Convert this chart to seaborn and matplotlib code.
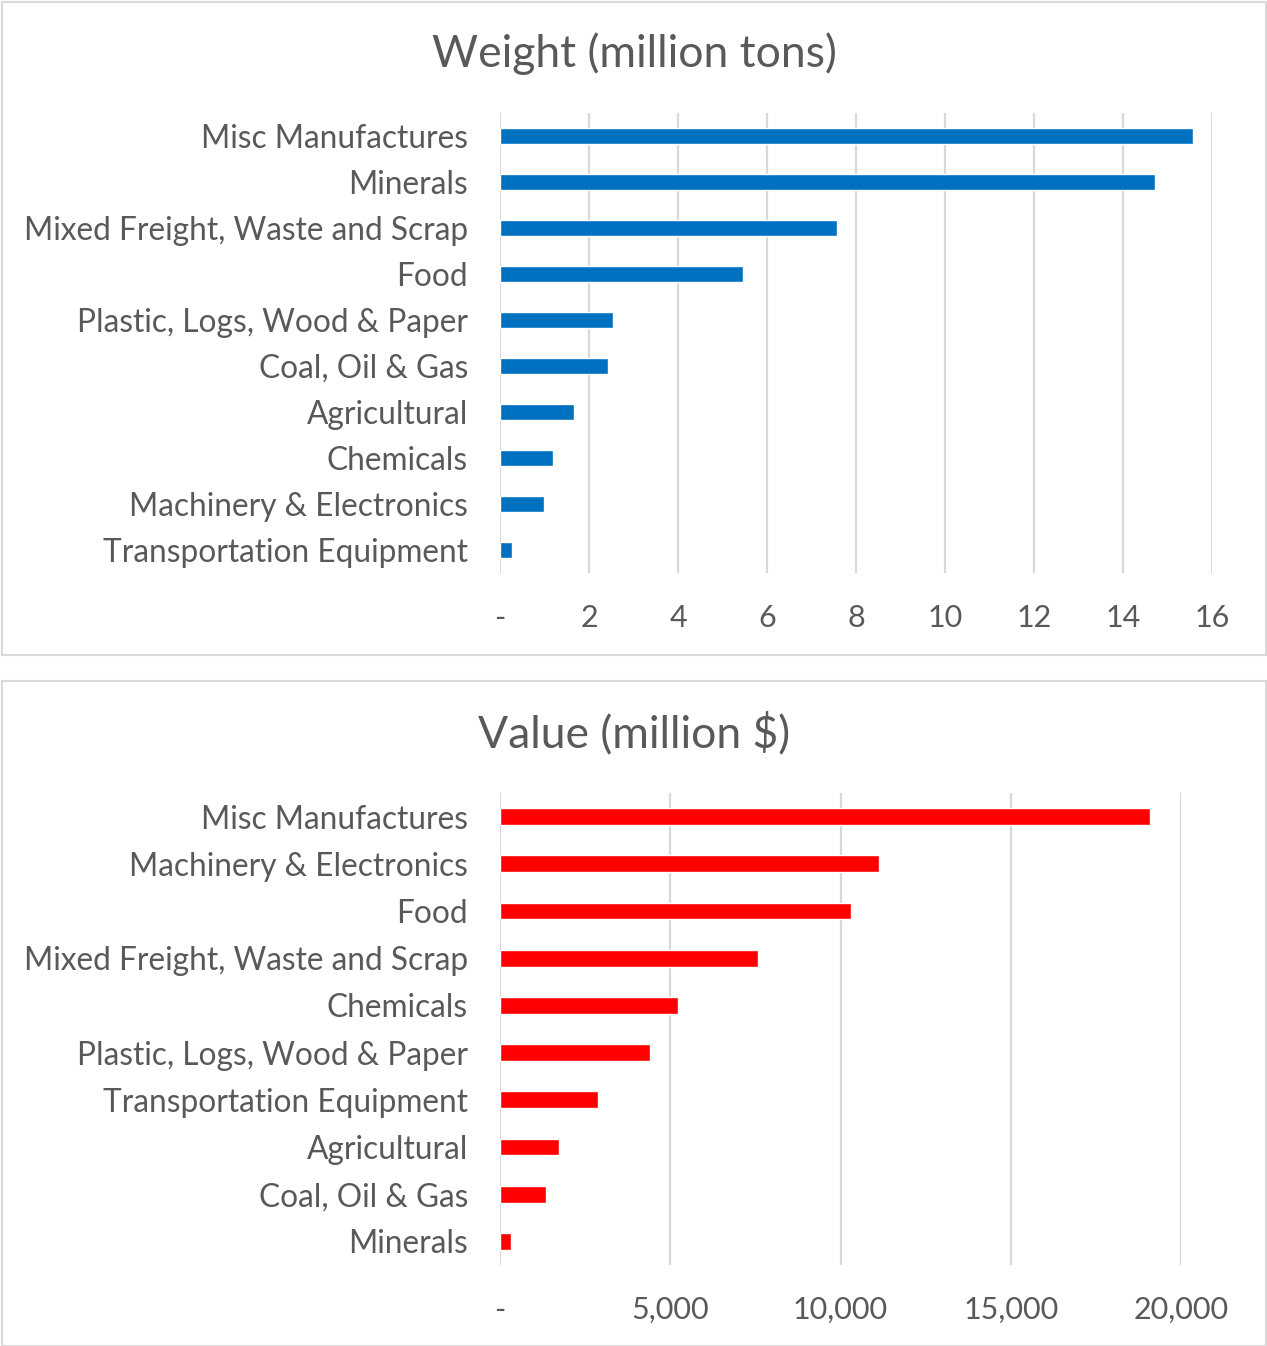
import matplotlib
matplotlib.use("Agg")
import matplotlib.pyplot as plt
from matplotlib.patches import Rectangle
from matplotlib.ticker import FuncFormatter
import seaborn as sns
import pandas as pd

# Freight by commodity: weight (million tons)
weight_categories = [
    "Misc Manufactures", "Minerals", "Mixed Freight, Waste and Scrap", "Food",
    "Plastic, Logs, Wood & Paper", "Coal, Oil & Gas", "Agricultural",
    "Chemicals", "Machinery & Electronics", "Transportation Equipment",
]
weight_values = [15.58, 14.73, 7.58, 5.45, 2.54, 2.42, 1.66, 1.18, 0.98, 0.28]
weight_ticks = [0, 2, 4, 6, 8, 10, 12, 14, 16]

# Freight by commodity: value (million $)
value_categories = [
    "Misc Manufactures", "Machinery & Electronics", "Food",
    "Mixed Freight, Waste and Scrap", "Chemicals", "Plastic, Logs, Wood & Paper",
    "Transportation Equipment", "Agricultural", "Coal, Oil & Gas", "Minerals",
]
value_values = [19080, 11144, 10314, 7587, 5220, 4399, 2865, 1730, 1340, 314]
value_ticks = [0, 5000, 10000, 15000, 20000]

sns.set_theme(style="white")
plt.rcParams["font.family"] = ["Lato", "DejaVu Sans"]

TEXT = "#595959"
GRID = "#D9D9D9"
W, H = 1267, 1346
fig = plt.figure(figsize=(W / 100, H / 100), dpi=100)


def px_axes(x0, y0, x1, y1):
    return fig.add_axes([x0 / W, 1 - y1 / H, (x1 - x0) / W, (y1 - y0) / H])


def panel_border(x0, y0, x1, y1):
    fig.patches.append(Rectangle((x0 / W, 1 - y1 / H), (x1 - x0) / W, (y1 - y0) / H,
                                 transform=fig.transFigure, fill=False,
                                 edgecolor=GRID, linewidth=1.5))


def dash_zero(fmt):
    return FuncFormatter(lambda v, _: "-" if v == 0 else fmt.format(v))


def draw(ax, cats, vals, color, ticks, fmt, title, title_y):
    df = pd.DataFrame({"category": cats, "amount": vals})
    sns.barplot(data=df, x="amount", y="category", orient="h", color=color,
                width=0.36, saturation=1, ax=ax)
    ax.set_xlim(ticks[0], ticks[-1])
    ax.set_xticks(ticks)
    ax.xaxis.set_major_formatter(dash_zero(fmt))
    ax.grid(axis="x", color=GRID, linewidth=1.6)
    ax.grid(axis="y", visible=False)
    ax.set_axisbelow(True)
    for s in ax.spines.values():
        s.set_visible(False)
    ax.set_xlabel("")
    ax.set_ylabel("")
    ax.tick_params(axis="y", length=0, pad=23, labelsize=22.8, labelcolor=TEXT)
    ax.tick_params(axis="x", length=0, pad=22, labelsize=22, labelcolor=TEXT)
    fig.text(0.5 * (2 + 1266) / W, 1 - title_y / H, title, ha="center", va="center",
             fontsize=32, color=TEXT)


panel_border(2, 2, 1266, 655)
panel_border(2, 681, 1266, 1346)

ax1 = px_axes(500, 113, 1212, 573)
draw(ax1, weight_categories, weight_values, "#0070C0", weight_ticks, "{:,.0f}",
     "Weight (million tons)", 54)

ax2 = px_axes(500, 793, 1181, 1265)
draw(ax2, value_categories, value_values, "#FF0000", value_ticks, "{:,.0f}",
     "Value (million $)", 734)

fig.savefig("out.png", dpi=100, facecolor="white")
